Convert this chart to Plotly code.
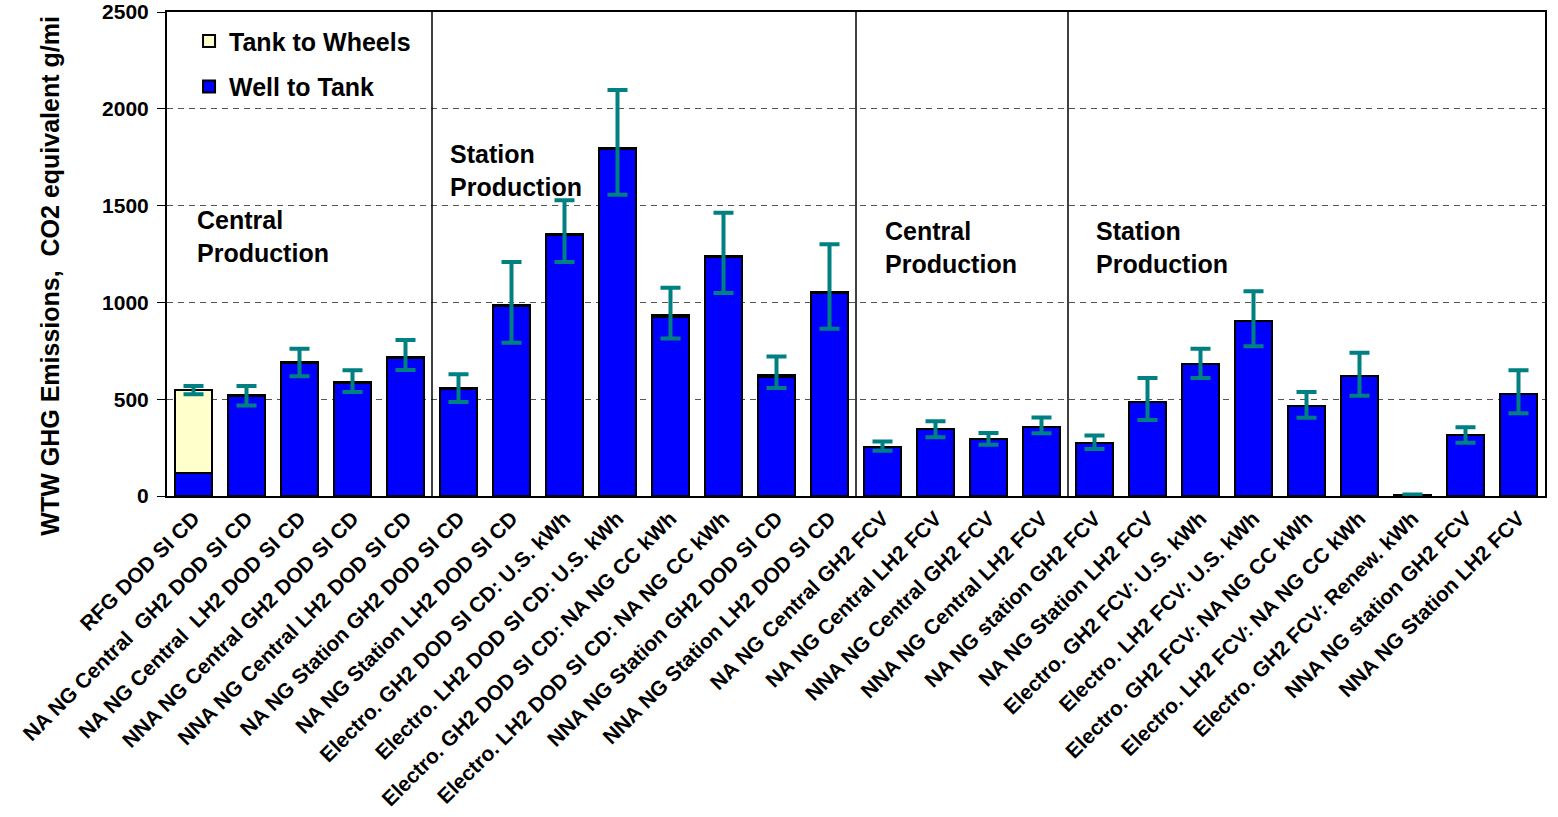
import plotly.graph_objects as go

categories = [
    "RFG DOD SI CD",
    "NA NG Central  GH2 DOD SI CD",
    "NA NG Central  LH2 DOD SI CD",
    "NNA NG Central GH2 DOD SI CD",
    "NNA NG Central LH2 DOD SI CD",
    "NA NG Station GH2 DOD SI CD",
    "NA NG Station LH2 DOD SI CD",
    "Electro. GH2 DOD SI CD: U.S. kWh",
    "Electro. LH2 DOD SI CD: U.S. kWh",
    "Electro. GH2 DOD SI CD: NA NG CC kWh",
    "Electro. LH2 DOD SI CD: NA NG CC kWh",
    "NNA NG Station GH2 DOD SI CD",
    "NNA NG Station LH2 DOD SI CD",
    "NA NG Central GH2 FCV",
    "NA NG Central LH2 FCV",
    "NNA NG Central GH2 FCV",
    "NNA NG Central LH2 FCV",
    "NA NG station GH2 FCV",
    "NA NG Station LH2 FCV",
    "Electro. GH2 FCV: U.S. kWh",
    "Electro. LH2 FCV: U.S. kWh",
    "Electro. GH2 FCV: NA NG CC kWh",
    "Electro. LH2 FCV: NA NG CC kWh",
    "Electro. GH2 FCV: Renew. kWh",
    "NNA NG station GH2 FCV",
    "NNA NG Station LH2 FCV",
]

well_to_tank = [120, 514, 686, 583, 712, 552, 979, 1346, 1792, 927, 1232, 617, 1048,
                253, 344, 294, 355, 275, 487, 680, 906, 467, 620, 5, 313, 527]
tank_to_wheels = [429, 6, 6, 6, 6, 6, 6, 6, 6, 6, 6, 6, 6,
                  0, 0, 0, 0, 0, 0, 0, 0, 0, 0, 0, 0, 0]
err_plus = [19, 48, 69, 60, 88, 71, 224, 175, 299, 143, 225, 98, 246,
            29, 42, 31, 50, 38, 122, 81, 151, 70, 120, 3, 42, 122]
err_minus = [24, 52, 74, 52, 67, 72, 193, 143, 242, 120, 189, 65, 190,
             19, 41, 29, 31, 32, 94, 71, 133, 63, 102, 3, 38, 100]

y_title = "WTW GHG Emissions,  CO2 equivalent g/mi"
section_labels = ["Central<br>Production", "Station<br>Production",
                  "Central<br>Production", "Station<br>Production"]
section_label_x = [0.03, 4.80, 13.01, 16.99]
section_label_y = [1343, 1679, 1286, 1286]
section_dividers = [4.5, 12.5, 16.5]

totals = [w + t for w, t in zip(well_to_tank, tank_to_wheels)]

FONT = "Liberation Sans, Arial, sans-serif"

fig = go.Figure()
fig.add_trace(go.Bar(
    x=categories, y=well_to_tank, name="Well to Tank",
    marker=dict(color="#0000FF", line=dict(color="black", width=2)),
    width=0.68, legendgroup="wtt", legendrank=2,
))
fig.add_trace(go.Bar(
    x=categories, y=tank_to_wheels, name="Tank to Wheels",
    marker=dict(color="#FFFFCC", line=dict(color="black", width=2)),
    width=0.68, legendgroup="ttw", legendrank=1,
))
fig.add_trace(go.Scatter(
    x=categories, y=totals, mode="markers",
    marker=dict(size=1, color="rgba(0,0,0,0)"),
    error_y=dict(type="data", symmetric=False, array=err_plus, arrayminus=err_minus,
                 color="#008080", thickness=4, width=10),
    showlegend=False, hoverinfo="skip",
))

shapes = [
    dict(type="rect", xref="paper", yref="paper", x0=0.002, x1=0.204, y0=0.77, y1=0.995,
         fillcolor="white", line=dict(width=0), layer="between"),
]
for d in section_dividers:
    shapes.append(dict(type="line", xref="x", yref="paper", x0=d, x1=d, y0=0, y1=1,
                       line=dict(color="black", width=1.5), layer="above"))

annotations = []
for txt, ax, ay in zip(section_labels, section_label_x, section_label_y):
    annotations.append(dict(text=txt, x=ax, y=ay, xref="x", yref="y",
                            xanchor="left", yanchor="middle", align="left",
                            showarrow=False,
                            font=dict(family=FONT, size=25, color="black", weight="bold")))
annotations.append(dict(text=y_title, x=-0.085, y=0.455, xref="paper", yref="paper",
                        xanchor="center", yanchor="middle", textangle=-90, showarrow=False,
                        font=dict(family=FONT, size=25, color="black", weight="bold")))

fig.update_layout(
    width=1558, height=817,
    barmode="stack", bargap=0.32,
    plot_bgcolor="white", paper_bgcolor="white",
    margin=dict(l=167, r=13, t=12, b=321),
    font=dict(family=FONT, color="black"),
    shapes=shapes, annotations=annotations,
    showlegend=True,
    legend=dict(x=0.016, y=0.987, xanchor="left", yanchor="top",
                traceorder="grouped", tracegroupgap=10,
                bgcolor="rgba(0,0,0,0)",
                font=dict(family=FONT, size=25, color="black", weight="bold")),
    xaxis=dict(type="category", range=[-0.5, 25.5], tickangle=-45, automargin=False,
               tickfont=dict(family=FONT, size=21, color="black", weight="bold"),
               showline=True, linecolor="black", linewidth=2, mirror=True,
               showgrid=False, ticks=""),
    yaxis=dict(range=[0, 2500], tickvals=[0, 500, 1000, 1500, 2000, 2500], automargin=False,
               ticklabeloverflow="allow",
               tickfont=dict(family=FONT, size=21, color="black", weight="bold"),
               showline=True, linecolor="black", linewidth=2, mirror=True,
               ticks="outside", ticklen=8, tickcolor="black", ticklabelstandoff=4,
               showgrid=True, gridcolor="#555555", gridwidth=1, griddash="6px,5px",
               zeroline=False),
)

fig.write_html("out.html", config={"displayModeBar": False},
               post_script="document.body.style.margin='0';")
